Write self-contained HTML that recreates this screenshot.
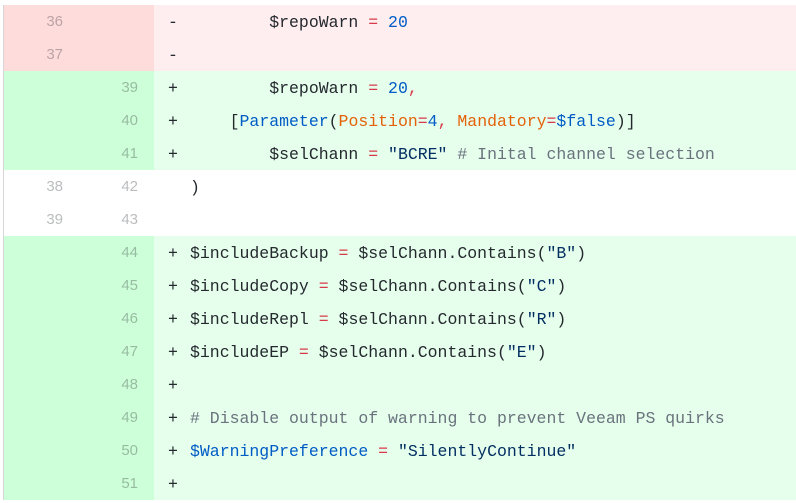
<!DOCTYPE html>
<html><head><meta charset="utf-8"><style>
body{margin:0;width:796px;height:503px;background:#fff;overflow:hidden;font-family:"Liberation Mono",monospace;font-size:16.5px;color:#24292e}
.wrap{position:absolute;left:3px;top:5px;width:793px;border-left:1px solid #d6d6d6}
.r{position:relative;height:33px;line-height:36px;white-space:pre}
.g{position:absolute;left:0;top:0;width:150px;height:33px}
.n1,.n2{position:absolute;top:0;width:40px;text-align:right;color:rgba(27,31,35,.3);font-family:"Liberation Sans",sans-serif;font-size:15px;line-height:33px}
.n1{left:19px}.n2{left:94px}
.s{position:absolute;left:164px}
.c{position:absolute;left:186px}
.del{background:#ffeef0}.del .g{background:#ffdcdc}
.add{background:#e6ffed}.add .g{background:#cdffd8}
.b{color:#005cc5}.o{color:#e36209}.k{color:#d73a49}.st{color:#032f62}.cm{color:#6a737d}
</style></head><body><div class="wrap">
<div class="r del"><div class="g"><span class="n1">36</span></div><span class="s">-</span><span class="c">        $repoWarn <span class="k">=</span> <span class="b">20</span></span></div>
<div class="r del"><div class="g"><span class="n1">37</span></div><span class="s">-</span></div>
<div class="r add"><div class="g"><span class="n2">39</span></div><span class="s">+</span><span class="c">        $repoWarn <span class="k">=</span> <span class="b">20</span><span class="k">,</span></span></div>
<div class="r add"><div class="g"><span class="n2">40</span></div><span class="s">+</span><span class="c">    [<span class="b">Parameter</span>(<span class="o">Position</span><span class="k">=</span><span class="b">4</span><span class="k">,</span> <span class="o">Mandatory</span><span class="k">=</span><span class="b">$false</span>)]</span></div>
<div class="r add"><div class="g"><span class="n2">41</span></div><span class="s">+</span><span class="c">        $selChann <span class="k">=</span> <span class="st">"BCRE"</span> <span class="cm"># Inital channel selection</span></span></div>
<div class="r"><div class="g"><span class="n1">38</span><span class="n2">42</span></div><span class="c">)</span></div>
<div class="r"><div class="g"><span class="n1">39</span><span class="n2">43</span></div></div>
<div class="r add"><div class="g"><span class="n2">44</span></div><span class="s">+</span><span class="c">$includeBackup <span class="k">=</span> $selChann.Contains(<span class="st">"B"</span>)</span></div>
<div class="r add"><div class="g"><span class="n2">45</span></div><span class="s">+</span><span class="c">$includeCopy <span class="k">=</span> $selChann.Contains(<span class="st">"C"</span>)</span></div>
<div class="r add"><div class="g"><span class="n2">46</span></div><span class="s">+</span><span class="c">$includeRepl <span class="k">=</span> $selChann.Contains(<span class="st">"R"</span>)</span></div>
<div class="r add"><div class="g"><span class="n2">47</span></div><span class="s">+</span><span class="c">$includeEP <span class="k">=</span> $selChann.Contains(<span class="st">"E"</span>)</span></div>
<div class="r add"><div class="g"><span class="n2">48</span></div><span class="s">+</span></div>
<div class="r add"><div class="g"><span class="n2">49</span></div><span class="s">+</span><span class="c"><span class="cm"># Disable output of warning to prevent Veeam PS quirks</span></span></div>
<div class="r add"><div class="g"><span class="n2">50</span></div><span class="s">+</span><span class="c"><span class="b">$WarningPreference</span> <span class="k">=</span> <span class="st">"SilentlyContinue"</span></span></div>
<div class="r add"><div class="g"><span class="n2">51</span></div><span class="s">+</span></div>
</div></body></html>
